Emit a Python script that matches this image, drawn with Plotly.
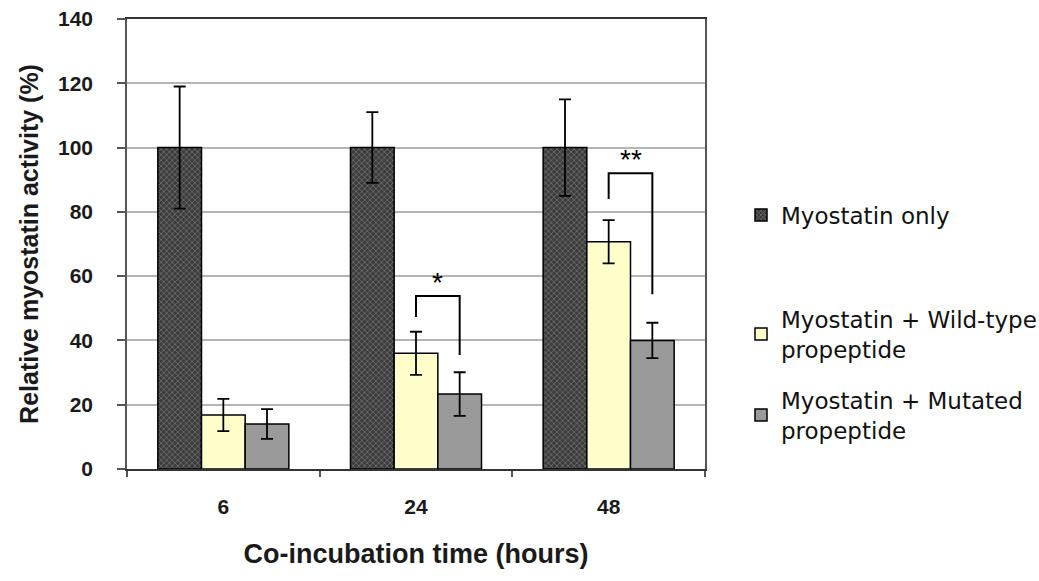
import plotly.graph_objects as go

categories = ["6", "24", "48"]
series_names = ["Myostatin only", "Myostatin + Wild-type<br>propeptide", "Myostatin + Mutated<br>propeptide"]
only_vals = [100, 100, 100]
only_err = [19, 11, 15]
wild_vals = [16.8, 36.0, 70.7]
wild_err = [5.0, 6.7, 6.7]
mut_vals = [14.0, 23.3, 40.0]
mut_err = [4.6, 6.8, 5.5]

# significance brackets (category index, label, top value, left leg bottom, right leg bottom)
sig_cat = [1, 2]
sig_label = ["*", "**"]
sig_top = [53.8, 92.0]
sig_left_bottom = [47.3, 84.0]
sig_right_bottom = [35.5, 54.4]

BARGAP = 0.32
bar_w = (1 - BARGAP) / 3

fig = go.Figure()
line = dict(color="black", width=1.5)
eb = lambda arr: dict(type="data", array=arr, visible=True, color="black", thickness=1.8, width=6)

fig.add_trace(go.Bar(
    x=categories, y=only_vals, name=series_names[0], error_y=eb(only_err),
    marker=dict(color="#3c3c3c", line=line,
                pattern=dict(shape="x", fgcolor="#a8a8a8", bgcolor="#3c3c3c", size=4, solidity=0.35)),
    legend="legend"))
fig.add_trace(go.Bar(
    x=categories, y=wild_vals, name=series_names[1], error_y=eb(wild_err),
    marker=dict(color="#FFFFCC", line=line), legend="legend2"))
fig.add_trace(go.Bar(
    x=categories, y=mut_vals, name=series_names[2], error_y=eb(mut_err),
    marker=dict(color="#9A9A9A", line=line), legend="legend3"))

for c, lab, top, lb, rb in zip(sig_cat, sig_label, sig_top, sig_left_bottom, sig_right_bottom):
    xl = c
    xr = c + bar_w
    fig.add_shape(type="path", xref="x", yref="y",
                  path=f"M {xl},{lb} L {xl},{top} L {xr},{top} L {xr},{rb}",
                  line=dict(color="black", width=2))
    fig.add_annotation(x=c + bar_w / 2, y=top, xref="x", yref="y", text=lab,
                       showarrow=False, yanchor="bottom", yshift=-4,
                       font=dict(family="Liberation Sans, Arial", size=28, color="black"))

tick_font = dict(family="Liberation Sans, Arial", size=21, color="#1a1a1a", weight="bold")
xtitle_font = dict(family="Liberation Sans, Arial", size=27, color="#1a1a1a", weight="bold")
ytitle_font = dict(family="Liberation Sans, Arial", size=25, color="#1a1a1a", weight="bold")
legend_font = dict(family="DejaVu Sans, Verdana", size=23, color="#111")

lx = 741 / 1039
fig.update_layout(
    width=1039, height=581,
    margin=dict(l=127, r=334, t=19, b=112, autoexpand=False),
    paper_bgcolor="white", plot_bgcolor="white",
    barmode="group", bargap=BARGAP, bargroupgap=0,
    showlegend=True,
    legend=dict(xref="container", yref="container", x=lx, y=1 - 215 / 581,
                xanchor="left", yanchor="middle", font=legend_font, bgcolor="rgba(0,0,0,0)"),
    legend2=dict(xref="container", yref="container", x=lx, y=1 - 334 / 581,
                 xanchor="left", yanchor="middle", font=legend_font, bgcolor="rgba(0,0,0,0)"),
    legend3=dict(xref="container", yref="container", x=lx, y=1 - 415 / 581,
                 xanchor="left", yanchor="middle", font=legend_font, bgcolor="rgba(0,0,0,0)"),
)
fig.update_yaxes(range=[0, 140], dtick=20, showgrid=True, gridcolor="#b4b4b4", gridwidth=1.5,
                 showline=True, linecolor="#555", linewidth=1.5, mirror=True,
                 ticks="outside", ticklen=8, tickcolor="#555", tickwidth=1.5,
                 tickfont=tick_font, ticklabelstandoff=20,
                 title=dict(text="Relative myostatin activity (%)", font=ytitle_font, standoff=12),
                 zeroline=False)
fig.update_xaxes(type="category", showline=True, linecolor="#333", linewidth=1.5, mirror=True,
                 ticks="outside", ticklen=6, tickcolor="#555", tickwidth=1.5, tickson="boundaries",
                 tickfont=tick_font, ticklabelstandoff=18,
                 title=dict(text="Co-incubation time (hours)", font=xtitle_font, standoff=27))

fig.write_html("out.html", config={"displayModeBar": False},
               post_script="document.body.style.margin='0';")
